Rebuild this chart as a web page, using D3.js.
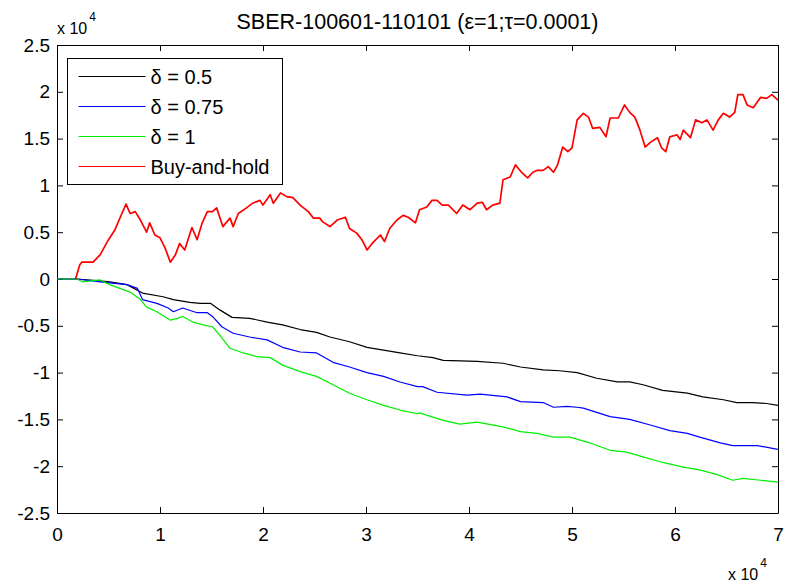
<!DOCTYPE html>
<html>
<head>
<meta charset="utf-8">
<script src="https://cdn.jsdelivr.net/npm/d3@7"></script>
<style>
  body { margin: 0; background: #fff; }
  svg { display: block; font-family: 'Liberation Sans', Arial, sans-serif; }
</style>
</head>
<body>
<svg id="chart"></svg>
<script>
// all values in units of 10^4, as on the axes
const xTicks = [0, 1, 2, 3, 4, 5, 6, 7];
const yTicks = [-2.5, -2, -1.5, -1, -0.5, 0, 0.5, 1, 1.5, 2, 2.5];

const legendLabels = ['\u03b4 = 0.5', '\u03b4 = 0.75', '\u03b4 = 1', 'Buy-and-hold'];
const seriesColors = ['#000000', '#0000ff', '#00ee00', '#ff0000'];

const delta05 = [
  [0, 0], [0.19, 0], [0.42, -0.02], [0.51, -0.03], [0.68, -0.06], [0.83, -0.15],
  [1.03, -0.19], [1.13, -0.22], [1.29, -0.25], [1.39, -0.26], [1.49, -0.26],
  [1.58, -0.33], [1.7, -0.41], [1.87, -0.42], [2.04, -0.46], [2.19, -0.49],
  [2.36, -0.54], [2.52, -0.57], [2.65, -0.62], [2.84, -0.67], [3.01, -0.73],
  [3.17, -0.76], [3.33, -0.79], [3.5, -0.82], [3.65, -0.84], [3.75, -0.87],
  [4.08, -0.88], [4.33, -0.9], [4.5, -0.94], [4.72, -0.97], [4.88, -0.98],
  [5.05, -1.0], [5.24, -1.06], [5.44, -1.1], [5.56, -1.1], [5.69, -1.13],
  [5.88, -1.19], [6.12, -1.22], [6.27, -1.26], [6.47, -1.29], [6.6, -1.32],
  [6.76, -1.32], [6.89, -1.33], [7.0, -1.35]
];

const delta075 = [
  [0, 0], [0.19, 0], [0.42, -0.03], [0.68, -0.06], [0.78, -0.1], [0.83, -0.22],
  [0.97, -0.26], [1.08, -0.31], [1.13, -0.35], [1.22, -0.31], [1.36, -0.36],
  [1.46, -0.36], [1.51, -0.4], [1.6, -0.51], [1.71, -0.58], [1.87, -0.62],
  [2.04, -0.65], [2.19, -0.73], [2.36, -0.78], [2.52, -0.79], [2.68, -0.89],
  [2.84, -0.94], [3.01, -1.0], [3.17, -1.04], [3.33, -1.1], [3.5, -1.15],
  [3.55, -1.15], [3.69, -1.21], [3.98, -1.24], [4.11, -1.23], [4.37, -1.26],
  [4.5, -1.31], [4.72, -1.32], [4.82, -1.37], [4.95, -1.36], [5.05, -1.37],
  [5.11, -1.38], [5.37, -1.47], [5.56, -1.5], [5.76, -1.56], [5.95, -1.62],
  [6.12, -1.65], [6.24, -1.69], [6.44, -1.75], [6.56, -1.78], [6.8, -1.78],
  [7.0, -1.82]
];

const delta1 = [
  [0, 0], [0.19, 0], [0.25, -0.03], [0.42, -0.01], [0.51, -0.06], [0.61, -0.1],
  [0.71, -0.14], [0.81, -0.22], [0.87, -0.3], [0.97, -0.35], [1.1, -0.44],
  [1.17, -0.42], [1.22, -0.4], [1.32, -0.46], [1.42, -0.49], [1.51, -0.51],
  [1.58, -0.6], [1.68, -0.74], [1.81, -0.79], [1.94, -0.83], [2.07, -0.84],
  [2.19, -0.92], [2.36, -0.99], [2.52, -1.04], [2.68, -1.13], [2.84, -1.22],
  [3.01, -1.29], [3.17, -1.35], [3.33, -1.4], [3.5, -1.44], [3.52, -1.43],
  [3.75, -1.51], [3.91, -1.55], [4.08, -1.53], [4.33, -1.58], [4.5, -1.63],
  [4.66, -1.65], [4.82, -1.69], [4.98, -1.69], [5.17, -1.75], [5.37, -1.83],
  [5.53, -1.85], [5.69, -1.9], [5.88, -1.96], [6.08, -2.01], [6.24, -2.04],
  [6.41, -2.09], [6.56, -2.15], [6.66, -2.13], [6.83, -2.15], [7.0, -2.17]
];

const buyHold = [
  [0.18, 0], [0.22, 0.15], [0.24, 0.18], [0.35, 0.18], [0.42, 0.26], [0.5, 0.42],
  [0.56, 0.52], [0.63, 0.7], [0.67, 0.8], [0.71, 0.7], [0.76, 0.72], [0.81, 0.63],
  [0.87, 0.5], [0.9, 0.6], [0.95, 0.47], [1.0, 0.44], [1.05, 0.33], [1.1, 0.18],
  [1.15, 0.26], [1.19, 0.38], [1.24, 0.31], [1.31, 0.55], [1.36, 0.42], [1.41, 0.6],
  [1.46, 0.72], [1.51, 0.72], [1.55, 0.76], [1.61, 0.56], [1.68, 0.65], [1.71, 0.56],
  [1.76, 0.7], [1.84, 0.76], [1.9, 0.81], [1.97, 0.84], [2.0, 0.79], [2.07, 0.9],
  [2.1, 0.81], [2.17, 0.92], [2.23, 0.88], [2.29, 0.87], [2.36, 0.79], [2.44, 0.72],
  [2.49, 0.65], [2.55, 0.65], [2.58, 0.61], [2.65, 0.56], [2.72, 0.63], [2.8, 0.66],
  [2.84, 0.54], [2.91, 0.49], [2.96, 0.42], [3.01, 0.31], [3.06, 0.38], [3.14, 0.47],
  [3.18, 0.4], [3.23, 0.54], [3.3, 0.63], [3.36, 0.68], [3.41, 0.66], [3.48, 0.6],
  [3.52, 0.74], [3.59, 0.77], [3.64, 0.84], [3.69, 0.84], [3.74, 0.79], [3.8, 0.79],
  [3.88, 0.7], [3.94, 0.79], [4.01, 0.74], [4.08, 0.81], [4.13, 0.82], [4.17, 0.74],
  [4.23, 0.79], [4.3, 0.81], [4.33, 1.06], [4.4, 1.09], [4.45, 1.22], [4.51, 1.14],
  [4.57, 1.08], [4.62, 1.14], [4.66, 1.16], [4.72, 1.16], [4.77, 1.2], [4.82, 1.14],
  [4.86, 1.22], [4.91, 1.41], [4.96, 1.36], [5.0, 1.4], [5.05, 1.7], [5.11, 1.77],
  [5.16, 1.73], [5.2, 1.61], [5.27, 1.62], [5.33, 1.52], [5.37, 1.72], [5.45, 1.72],
  [5.51, 1.86], [5.56, 1.78], [5.61, 1.73], [5.66, 1.59], [5.71, 1.41], [5.76, 1.46],
  [5.83, 1.51], [5.87, 1.4], [5.91, 1.36], [5.95, 1.52], [6.02, 1.54], [6.05, 1.49],
  [6.08, 1.59], [6.15, 1.51], [6.2, 1.7], [6.26, 1.67], [6.31, 1.7], [6.37, 1.59],
  [6.42, 1.7], [6.47, 1.77], [6.53, 1.73], [6.58, 1.78], [6.61, 1.97], [6.66, 1.97],
  [6.7, 1.86], [6.76, 1.83], [6.83, 1.94], [6.89, 1.93], [6.94, 1.97], [7.0, 1.91]
];

const allSeries = [delta05, delta075, delta1, buyHold];

function drawChart() {
  const width = 786;
  const height = 584;
  const padding = { top: 45, right: 8, bottom: 71, left: 57 };

  const svg = d3.select('#chart').attr('width', width).attr('height', height);

  const xScale = d3
    .scaleLinear()
    .domain([0, 7])
    .range([padding.left, width - padding.right]);

  const yScale = d3
    .scaleLinear()
    .domain([-2.5, 2.5])
    .range([height - padding.bottom, padding.top]);

  const fmt = (d) => String(d);

  //AXES (matlab style: ticks inside, box on)
  const bottom = svg
    .append('g')
    .attr('transform', `translate(0,${height - padding.bottom})`)
    .call(d3.axisBottom(xScale).tickValues(xTicks).tickFormat(fmt).tickSizeInner(-6).tickSizeOuter(0).tickPadding(15));

  const top = svg
    .append('g')
    .attr('transform', `translate(0,${padding.top})`)
    .call(d3.axisTop(xScale).tickValues(xTicks).tickFormat('').tickSizeInner(-6).tickSizeOuter(0));

  const left = svg
    .append('g')
    .attr('transform', `translate(${padding.left},0)`)
    .call(d3.axisLeft(yScale).tickValues(yTicks).tickFormat(fmt).tickSizeInner(-6).tickSizeOuter(0).tickPadding(7));

  const right = svg
    .append('g')
    .attr('transform', `translate(${width - padding.right},0)`)
    .call(d3.axisRight(yScale).tickValues(yTicks).tickFormat('').tickSizeInner(-6).tickSizeOuter(0));

  [bottom, top, left, right].forEach((g) => {
    g.selectAll('text').style('font-size', '19px').style('font-family', null).attr('fill', '#000');
    g.selectAll('line, path').attr('stroke', '#000');
  });

  //LINES
  svg
    .append('clipPath')
    .attr('id', 'plot-clip')
    .append('rect')
    .attr('x', padding.left)
    .attr('y', padding.top)
    .attr('width', width - padding.left - padding.right)
    .attr('height', height - padding.top - padding.bottom);

  const line = d3
    .line()
    .x((d) => xScale(d[0]))
    .y((d) => yScale(d[1]));

  svg
    .append('g')
    .attr('clip-path', 'url(#plot-clip)')
    .selectAll('.series')
    .data(allSeries)
    .enter()
    .append('path')
    .classed('series', true)
    .attr('d', line)
    .attr('fill', 'none')
    .attr('stroke', (d, i) => seriesColors[i])
    .attr('stroke-width', (d, i) => (i === 3 ? 1.7 : 1.2))
    .attr('stroke-linejoin', 'round');

  //LEGEND
  const legend = svg.append('g').attr('transform', 'translate(67.5,58.5)');
  legend
    .append('rect')
    .attr('width', 215)
    .attr('height', 126)
    .attr('fill', '#fff')
    .attr('stroke', '#000');

  const rows = legend
    .selectAll('.legend-row')
    .data(legendLabels)
    .enter()
    .append('g')
    .classed('legend-row', true)
    .attr('transform', (d, i) => `translate(0,${18 + i * 30})`);

  rows
    .append('line')
    .attr('x1', 11)
    .attr('x2', 78)
    .attr('stroke', (d, i) => seriesColors[i])
    .attr('stroke-width', 1);

  rows
    .append('text')
    .attr('x', 83)
    .attr('dy', '0.35em')
    .style('font-size', '20px')
    .text((d) => d);

  //TITLE AND MULTIPLIERS
  svg
    .append('text')
    .attr('x', (padding.left + width - padding.right) / 2)
    .attr('y', 29)
    .style('text-anchor', 'middle')
    .style('font-size', '21.5px')
    .text('SBER-100601-110101 (\u03b5=1;\u03c4=0.0001)');

  const yMult = svg.append('text').attr('x', 57).attr('y', 34).style('font-size', '16px');
  yMult.append('tspan').text('x 10');
  yMult.append('tspan').attr('dx', 2).attr('dy', -13).style('font-size', '12px').text('4');

  const xMult = svg.append('text').attr('x', 728).attr('y', 580).style('font-size', '16px');
  xMult.append('tspan').text('x 10');
  xMult.append('tspan').attr('dx', 2).attr('dy', -13).style('font-size', '12px').text('4');
}

drawChart();
</script>
</body>
</html>
